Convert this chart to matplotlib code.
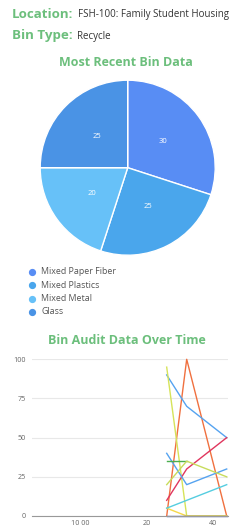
import matplotlib.pyplot as plt
import numpy as np

plt.rcParams['font.family'] = ['Open Sans', 'DejaVu Sans']

green = '#6cbf7c'

# pie data
bin_types = ['Mixed Paper Fiber', 'Mixed Plastics', 'Mixed Metal', 'Glass']
bin_values = [30, 25, 20, 25]
bin_colors = ['#588df4', '#4aa6ec', '#67c1f8', '#4a93e5']

# audit data over time
audit_x = [26, 32, 44]
audit_orange = [0, 100, 0]
audit_blue1 = [90, 70, 50]
audit_lime1 = [95, 0, 0]
audit_gold = [5, 0, 0]
audit_crimson = [10, 30, 50]
audit_blue2 = [40, 20, 30]
audit_green = [35, 35, np.nan]
audit_lime2 = [20, 35, 25]
audit_cyan = [5, 10, 20]
audit_navy = [0, 0, 0]

x_ticks = [0, 20, 40]
x_tick_labels = ['10 00', '20', '40']
y_ticks = [0, 25, 50, 75, 100]

W, H = 246, 530
fig = plt.figure(figsize=(W / 100, H / 100), dpi=100)


def fx(px):
    return px / W


def fy(py):
    return 1 - py / H


# header
fig.text(fx(12), fy(14), 'Location:', color=green, fontsize=9.6, fontweight='bold', va='center')
fig.text(fx(78), fy(15), 'FSH-100: Family Student Housing', color='#333333', fontsize=7.0, va='center')
fig.text(fx(12), fy(35), 'Bin Type:', color=green, fontsize=9.6, fontweight='bold', va='center')
fig.text(fx(77), fy(36), 'Recycle', color='#333333', fontsize=7.0, va='center')

# pie
fig.text(fx(126), fy(62), 'Most Recent Bin Data', color=green, fontsize=9.0, fontweight='bold',
         ha='center', va='center')
cx, cy, r = 127.7, 167.7, 87.5
ax_pie = fig.add_axes([fx(cx - r), fy(cy + r), 2 * r / W, 2 * r / H])
wedges, texts = ax_pie.pie(bin_values, colors=bin_colors, startangle=90, counterclock=False,
                           labels=[str(v) for v in bin_values], labeldistance=0.5,
                           wedgeprops=dict(edgecolor='white', linewidth=1.0),
                           textprops=dict(color='white', fontsize=5.5))
for t in texts:
    t.set_ha('center')
    t.set_va('center')
ax_pie.set_xlim(-1, 1)
ax_pie.set_ylim(-1, 1)
ax_pie.set_aspect('auto')
ax_pie.axis('off')

# legend
for i, (name, col) in enumerate(zip(bin_types, bin_colors)):
    yy = 271.5 + i * 13.5
    fig.add_artist(plt.Line2D([fx(32)], [fy(yy)], marker='o', markersize=4.2,
                              color=col, linestyle='none'))
    fig.text(fx(41), fy(yy), name, color='#555555', fontsize=6.4, va='center')

# line chart
fig.text(fx(127), fy(340), 'Bin Audit Data Over Time', color=green, fontsize=9.0, fontweight='bold',
         ha='center', va='center')
ax = fig.add_axes([fx(31.7), fy(516), 196 / W, 156.7 / H])
series = [
    (audit_orange, '#f0703f'),
    (audit_blue1, '#55a3f0'),
    (audit_lime1, '#d6e35a'),
    (audit_gold, '#f5d84a'),
    (audit_crimson, '#e0365e'),
    (audit_blue2, '#55a3f0'),
    (audit_green, '#4caf50'),
    (audit_lime2, '#c8dc5c'),
    (audit_cyan, '#55cde0'),
    (audit_navy, '#3f55b5'),
]
for vals, col in series:
    ax.plot(audit_x, vals, color=col, linewidth=1.0, clip_on=False)

ax.set_xlim(-14.5, 44.3)
ax.set_ylim(0, 100)
ax.set_yticks(y_ticks)
ax.set_xticks(x_ticks)
ax.set_xticklabels(x_tick_labels)
ax.grid(axis='y', color='#e8e8e8', linewidth=0.8)
ax.set_axisbelow(True)
for s in ['top', 'right', 'left']:
    ax.spines[s].set_visible(False)
ax.spines['bottom'].set_color('#999999')
ax.spines['bottom'].set_linewidth(0.8)
ax.tick_params(axis='both', length=0, labelsize=5.2, labelcolor='#666666')
ax.tick_params(axis='y', pad=4)
ax.tick_params(axis='x', pad=3)
ax.patch.set_alpha(0)

fig.savefig('out.png', dpi=100)
